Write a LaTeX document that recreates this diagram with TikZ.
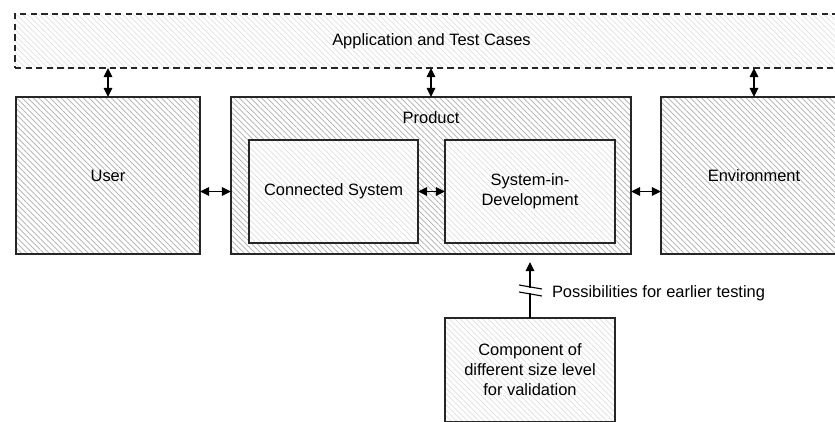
\documentclass[tikz,border=0pt]{standalone}
\usepackage{fontspec}
\setmainfont{Liberation Sans}
\usetikzlibrary{positioning,calc,arrows.meta,patterns.meta}

\newcommand{\px}{0.025cm}

\begin{document}
\begin{tikzpicture}[x=\px,y=-\px,
  font=\fontsize{11.7}{14.2}\selectfont,
  every node/.style={inner sep=0pt,outer sep=0pt,align=center},
  outerbox/.style={draw=black!85,line width=1pt,
    pattern={Lines[angle=-45,distance=2.8pt,line width=0.5pt]},pattern color=black!32},
  innerbox/.style={draw=black!85,line width=1pt,preaction={fill=white},
    pattern={Lines[angle=-45,distance=2.8pt,line width=0.5pt]},pattern color=black!12},
  appbox/.style={draw=black!85,line width=1pt,dash pattern=on 4.5pt off 3pt,
    pattern={Lines[angle=-45,distance=2.8pt,line width=0.5pt]},pattern color=black!12},
  link/.style={{Triangle[length=6.5pt,width=6pt]}-{Triangle[length=6.5pt,width=6pt]},line width=1.3pt},
  uplink/.style={-{Triangle[length=6.5pt,width=6pt]},line width=1.3pt}]
\useasboundingbox (0,0) rectangle (835,421);
\clip (0,0) rectangle (835,421);
\node[appbox,minimum width=833*\px,minimum height=54*\px] (app) at (431.5,41) {Application and Test Cases};
\node[outerbox,minimum width=184*\px,minimum height=157*\px] (user) at (108,175.5) {User};
\node[outerbox,minimum width=400*\px,minimum height=157*\px] (prod) at (431,175.5) {};
\node (prodlbl) at (431,118) {Product};
\node[innerbox,minimum width=169*\px,minimum height=103*\px] (cs) at (333.5,191.5) {Connected System};
\node[innerbox,minimum width=170*\px,minimum height=103*\px] (sid) at (530,191.5) {System-in-\\Development};
\node[outerbox,minimum width=186*\px,minimum height=157*\px] (env) at (754,175.5) {Environment};
\node[innerbox,minimum width=170*\px,minimum height=104*\px] (comp) at (530,370) {Component of\\different size level\\for validation};
\draw[link] (app.south -| user.north) -- (user.north);
\draw[link] (app.south -| prod.north) -- (prod.north);
\draw[link] (app.south -| env.north) -- (env.north);
\draw[link] (user.east |- cs.west) -- (prod.west |- cs.west);
\draw[link] (cs) -- (sid);
\draw[link] (prod.east |- sid.east) -- (env.west |- sid.east);
\draw[uplink,shorten >=8*\px] (comp.north) -- (comp.north |- prod.south);
\coordinate (brk) at (530,290.5);
\fill[white] ($(brk)+(-3,-3)$) rectangle ($(brk)+(3,2.5)$);
\draw[line width=0.8pt] ($(brk)+(-11,-5.5)$) -- ($(brk)+(12,-1.5)$);
\draw[line width=0.8pt] ($(brk)+(-11,1.5)$) -- ($(brk)+(12,5.5)$);
\node[anchor=west] (testlbl) at ($(brk)+(22,2.5)$) {Possibilities for earlier testing};
\end{tikzpicture}
\end{document}
